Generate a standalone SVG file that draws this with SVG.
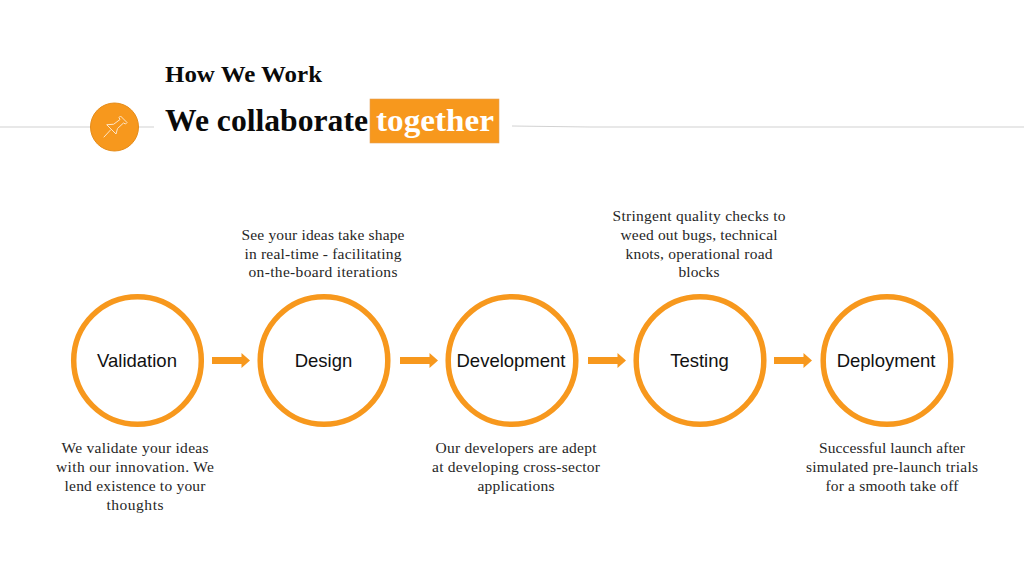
<svg xmlns="http://www.w3.org/2000/svg" width="1024" height="576" viewBox="0 0 1024 576">
<style>
.h{font-family:"Liberation Serif","DejaVu Serif",serif;font-weight:700;fill:#0a0a0a}
.b{font-family:"Liberation Serif","DejaVu Serif",serif;font-size:15.5px;fill:#262626;text-anchor:middle}
.n{font-family:"Liberation Sans",Arial,sans-serif;font-size:18.5px;fill:#111;text-anchor:middle}
.c{fill:#fff;stroke:#f7981d;stroke-width:5.500}
.rule{stroke:#d2d2d2;stroke-width:1.200;fill:none}
.ar{fill:#f7981d}
</style>
<g id="header">
<path class="rule" d="M0 127H154M512 126L590 127H1024"/>
<circle cx="114.500" cy="127" r="24" fill="#f7981d" stroke="#e58c1a" stroke-width="1"/>
<g fill="none" stroke="#fde6c8" stroke-width="1" stroke-linejoin="round" stroke-linecap="round"><path d="M104 137L110.500 130"/><path d="M107 125L116 134L117.500 128.500L123.500 123L125.500 124L127 122.500L120.500 116L119 117.500L120 119.500L114 124Z"/></g>
<text class="h" x="165" y="82" font-size="24" textLength="157" lengthAdjust="spacingAndGlyphs">How We Work</text>
<text class="h" x="165" y="131" font-size="31" textLength="203" lengthAdjust="spacingAndGlyphs">We collaborate</text>
<rect x="370" y="99" width="129" height="44" fill="#f7981d" stroke="#e3a25a" stroke-width=".6"/>
<text class="h" x="376" y="131" font-size="31" style="fill:#fff" textLength="118" lengthAdjust="spacingAndGlyphs">together</text>
</g>
<g id="connectors">
<path class="ar" d="M212 357H241.500V353L250 360.500L241.500 368V364H212Z"/>
<path class="ar" d="M400 357H429.500V353L438 360.500L429.500 368V364H400Z"/>
<path class="ar" d="M588 357H617.500V353L626 360.500L617.500 368V364H588Z"/>
<path class="ar" d="M774 357H803.500V353L812 360.500L803.500 368V364H774Z"/>
</g>
<g id="validation"><circle class="c" cx="137.500" cy="360.500" r="63.800"/><text class="n" x="137" y="367">Validation</text></g>
<g id="design"><circle class="c" cx="324" cy="360.500" r="63.800"/><text class="n" x="323.500" y="367">Design</text></g>
<g id="development"><circle class="c" cx="512" cy="360.500" r="63.800"/><text class="n" x="511" y="367">Development</text></g>
<g id="testing"><circle class="c" cx="700" cy="360.500" r="63.800"/><text class="n" x="699.500" y="367">Testing</text></g>
<g id="deployment"><circle class="c" cx="887" cy="360.500" r="63.800"/><text class="n" x="886" y="367">Deployment</text></g>
<g id="desc-validation">
<text class="b" x="135" y="453" textLength="147">We validate your ideas</text>
<text class="b" x="135" y="472" textLength="158">with our innovation. We</text>
<text class="b" x="135" y="491" textLength="141">lend existence to your</text>
<text class="b" x="135" y="510" textLength="57">thoughts</text>
</g>
<g id="desc-design">
<text class="b" x="323" y="240" textLength="163">See your ideas take shape</text>
<text class="b" x="323" y="259" textLength="157">in real-time - facilitating</text>
<text class="b" x="323" y="277" textLength="149">on-the-board iterations</text>
</g>
<g id="desc-development">
<text class="b" x="516" y="453" textLength="161">Our developers are adept</text>
<text class="b" x="516" y="472" textLength="168">at developing cross-sector</text>
<text class="b" x="516" y="491" textLength="77">applications</text>
</g>
<g id="desc-testing">
<text class="b" x="699" y="221" textLength="173">Stringent quality checks to</text>
<text class="b" x="699" y="240" textLength="157">weed out bugs, technical</text>
<text class="b" x="699" y="259" textLength="147">knots, operational road</text>
<text class="b" x="699" y="277" textLength="41">blocks</text>
</g>
<g id="desc-deployment">
<text class="b" x="892" y="453" textLength="146">Successful launch after</text>
<text class="b" x="892" y="472" textLength="172">simulated pre-launch trials</text>
<text class="b" x="892" y="491" textLength="133">for a smooth take off</text>
</g>
</svg>
